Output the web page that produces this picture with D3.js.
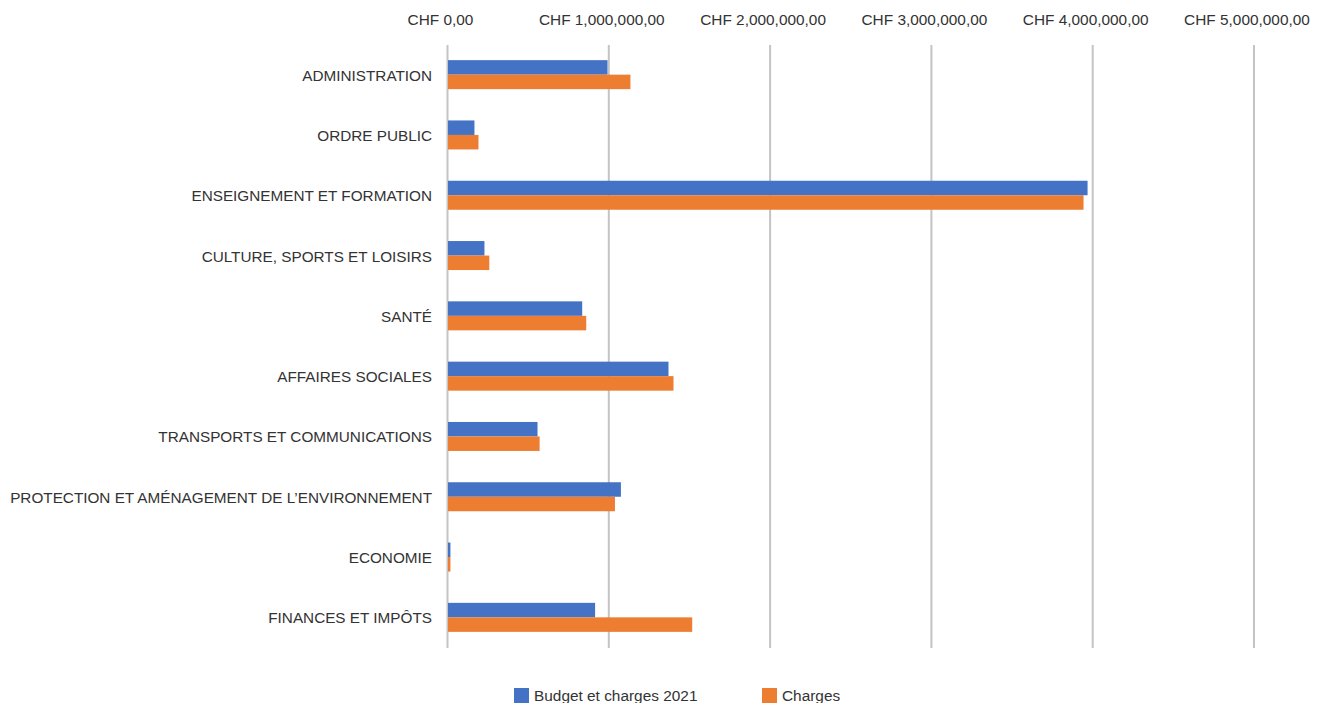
<!DOCTYPE html>
<html>
<head>
<meta charset="utf-8">
<script src="https://cdn.jsdelivr.net/npm/d3@7"></script>
<style>
  html, body { margin: 0; padding: 0; background: #fff; }
  svg { display: block; font-family: "Liberation Sans", Arial, Helvetica, sans-serif; }
</style>
</head>
<body>
<svg id="chart" width="1317" height="703"></svg>
<script>
const categories = [
  "ADMINISTRATION",
  "ORDRE PUBLIC",
  "ENSEIGNEMENT ET FORMATION",
  "CULTURE, SPORTS ET LOISIRS",
  "SANTÉ",
  "AFFAIRES SOCIALES",
  "TRANSPORTS ET COMMUNICATIONS",
  "PROTECTION ET AMÉNAGEMENT DE L’ENVIRONNEMENT",
  "ECONOMIE",
  "FINANCES ET IMPÔTS"
];
const seriesNames = ["Budget et charges 2021", "Charges"];
const budget2021 = [989000, 164000, 3965000, 226000, 832000, 1367000, 555000, 1072000, 15000, 912000];
const charges = [1131000, 189000, 3940000, 256000, 857000, 1398000, 568000, 1035000, 15000, 1514000];
const tickValues = [0, 1000000, 2000000, 3000000, 4000000, 5000000];
const tickLabels = ["CHF 0,00", "CHF 1,000,000,00", "CHF 2,000,000,00", "CHF 3,000,000,00", "CHF 4,000,000,00", "CHF 5,000,000,00"];
const colors = ["#4472C4", "#ED7D31"];

const svg = d3.select("#chart");
const x = d3.scaleLinear().domain([0, 5000000]).range([447.5, 1254]);
const y = d3.scaleBand().domain(categories).range([45, 648]);
const barGroupH = 29;
const ySub = d3.scaleBand().domain(seriesNames).range([0, barGroupH]);

// gridlines
svg.append("g").selectAll("line").data(tickValues).join("line")
  .attr("x1", d => x(d)).attr("x2", d => x(d))
  .attr("y1", 45).attr("y2", 648)
  .attr("stroke", "#C4C4C4").attr("stroke-width", 2);

// top axis labels
svg.append("g").selectAll("text").data(tickValues).join("text")
  .attr("x", d => x(d) - 7).attr("y", 21)
  .attr("text-anchor", "middle").attr("dominant-baseline", "middle")
  .attr("font-size", "15.4px").attr("fill", "#333")
  .text((d, i) => tickLabels[i]);

// bars
const data = categories.map((c, i) => ({ cat: c, vals: [budget2021[i], charges[i]] }));
const groups = svg.append("g").selectAll("g").data(data).join("g")
  .attr("transform", d => `translate(0,${y(d.cat) + y.bandwidth() / 2 - barGroupH / 2 - 0.5})`);
groups.selectAll("rect").data(d => d.vals.map((v, j) => ({ v, s: seriesNames[j], j }))).join("rect")
  .attr("x", x(0) + 0.5)
  .attr("y", d => ySub(d.s))
  .attr("width", d => x(d.v) - x(0))
  .attr("height", ySub.bandwidth())
  .attr("fill", d => colors[d.j]);

// category labels
svg.append("g").selectAll("text").data(categories).join("text")
  .attr("x", 432).attr("y", d => y(d) + y.bandwidth() / 2 + 1.5)
  .attr("text-anchor", "end").attr("dominant-baseline", "middle")
  .attr("font-size", "15.3px").attr("fill", "#333")
  .text(d => d);

// legend
const legendX = [514, 762];
const lg = svg.append("g").selectAll("g").data(seriesNames).join("g")
  .attr("transform", (d, i) => `translate(${legendX[i]},688)`);
lg.append("rect").attr("width", 15).attr("height", 15).attr("fill", (d, i) => colors[i]);
lg.append("text").attr("x", 20).attr("y", 8.5)
  .attr("dominant-baseline", "middle")
  .attr("font-size", "15.4px").attr("fill", "#333")
  .text(d => d);
</script>
</body>
</html>
